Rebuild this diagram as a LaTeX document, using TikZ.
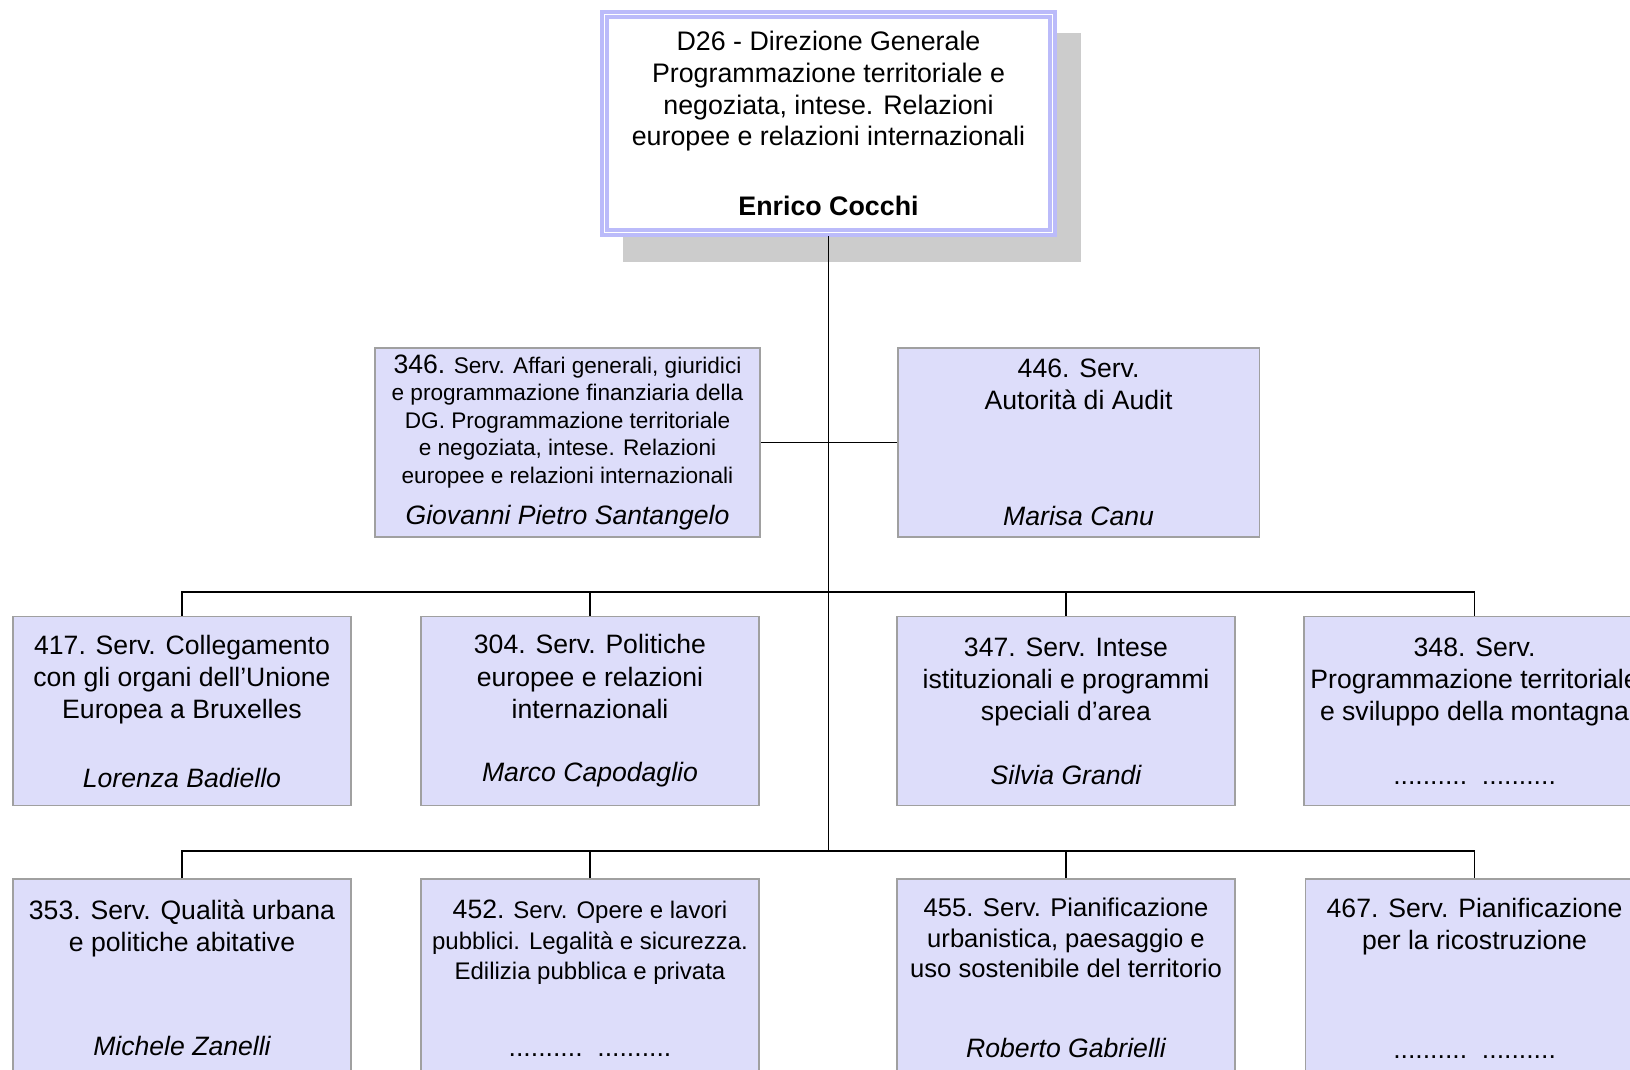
\documentclass[tikz,border=0pt]{standalone}
\usepackage{fontspec}
\setmainfont{Liberation Sans}
\usetikzlibrary{positioning,calc}
\definecolor{unitfill}{RGB}{221,221,250}
\definecolor{unitline}{RGB}{160,160,160}
\definecolor{headline}{RGB}{187,187,250}
\definecolor{shadowgray}{RGB}{204,204,204}
\newcommand\numfont{\fontsize{13.3}{16.1}\selectfont}
\newcommand\smfont{\fontsize{11.3}{13.75}\selectfont}
\begin{document}
\begin{tikzpicture} [
        x=0.5pt, y=-0.5pt,
        head/.style={draw=headline, double=white, line width=1.75pt, double distance=0.75pt, fill=white, outer sep=2pt, minimum width=224pt, minimum height=109pt, font=\fontsize{13.4}{15.85}\selectfont},
        unit/.style={draw=unitline, line width=0.8pt, fill=unitfill, minimum width=169.2pt, minimum height=94.5pt, font=\numfont},
        link/.style={line width=0.85pt},
        align=center,
        node distance=34pt ]
    \useasboundingbox (0,0) rectangle (1630,1070);
    \clip (0,0) rectangle (1630,1070);
    \fill[shadowgray] (623,33) rectangle (1081,262);
    \node[head] (d26) at (828.5,123.5) {D26 - Direzione Generale\\Programmazione territoriale e\\negoziata, intese. Relazioni\\europee e relazioni internazionali\\[19pt]\textbf{Enrico Cocchi}};
    \node[unit, minimum width=192.7pt, font=\smfont] (s346) at (567.5,442.5) {{\numfont 346.} Serv. Affari generali, giuridici\\e programmazione finanziaria della\\DG. Programmazione territoriale\\e negoziata, intese. Relazioni\\europee e relazioni internazionali\\[7pt]\numfont\itshape Giovanni Pietro Santangelo};
    \node[unit, minimum width=180.8pt, right=68pt of s346] (s446) {446. Serv.\\Autorità di Audit\\[42pt]\itshape Marisa Canu};
    \node[unit] (s417) at (182,711) {417. Serv. Collegamento\\con gli organi dell’Unione\\Europea a Bruxelles\\[18.2pt]\itshape Lorenza Badiello};
    \node[unit, right=of s417] (s304) {304. Serv. Politiche\\europee e relazioni\\internazionali\\[15.6pt]\itshape Marco Capodaglio};
    \node[unit, right=68pt of s304] (s347) {347. Serv. Intese\\istituzionali e programmi\\speciali d’area\\[15.6pt]\itshape Silvia Grandi};
    \node[unit, right=33.5pt of s347] (s348) {348. Serv.\\Programmazione territoriale\\e sviluppo della montagna\\[15.6pt]..........\ \ ..........};
    \node[unit, minimum height=99pt, below=36pt of s417] (s353) {353. Serv. Qualità urbana\\e politiche abitative\\[36pt]\itshape Michele Zanelli};
    \node[unit, minimum height=99pt, below=36pt of s304, font=\fontsize{12}{15.25}\selectfont] (s452) {{\numfont 452.} Serv. Opere e lavori\\pubblici. Legalità e sicurezza.\\Edilizia pubblica e privata\\[23pt]\numfont ..........\ \ ..........};
    \node[unit, minimum height=99pt, below=36pt of s347, font=\fontsize{12.8}{15.2}\selectfont] (s455) {455. Serv. Pianificazione\\urbanistica, paesaggio e\\uso sostenibile del territorio\\[25pt]\numfont\itshape Roberto Gabrielli};
    \node[unit, minimum height=99pt, below=36pt of s348] (s467) {467. Serv. Pianificazione\\per la ricostruzione\\[38.5pt]..........\ \ ..........};
    \draw[link] (d26.south) -- ($(d26.south |- s452.north)+(0,-27)$);
    \draw[link] (s346) -- (s446);
    \draw[link] (s417.north) -- ++(0,-24) -| (s348.north);
    \draw[link] (s353.north) -- ++(0,-27) -| (s467.north);
    \foreach \s in {s304,s347} \draw[link] (\s.north) -- ++(0,-24);
    \foreach \s in {s452,s455} \draw[link] (\s.north) -- ++(0,-27);
\end{tikzpicture}
\end{document}
